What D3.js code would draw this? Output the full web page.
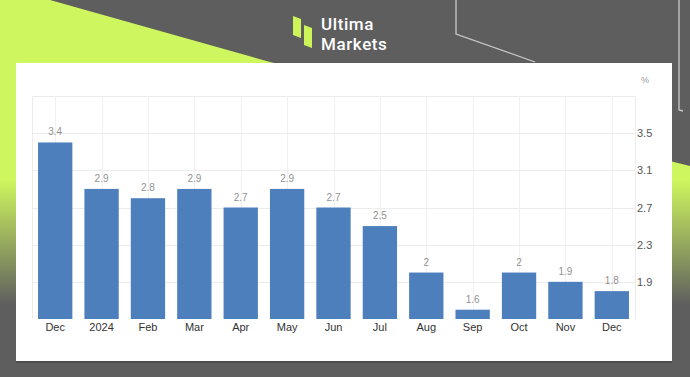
<!DOCTYPE html>
<html>
<head>
<meta charset="utf-8">
<script src="https://cdn.jsdelivr.net/npm/d3@7"></script>
<style>
html,body{margin:0;padding:0;background:#5e5e5e;}
svg{display:block;}
</style>
</head>
<body>
<svg id="chart" width="690" height="377"></svg>
<script>
const categories = ["Dec","2024","Feb","Mar","Apr","May","Jun","Jul","Aug","Sep","Oct","Nov","Dec"];
const values = [3.4,2.9,2.8,2.9,2.7,2.9,2.7,2.5,2.0,1.6,2.0,1.9,1.8];
const valueLabels = ["3.4","2.9","2.8","2.9","2.7","2.9","2.7","2.5","2","1.6","2","1.9","1.8"];
const yTicks = [1.9,2.3,2.7,3.1,3.5];
const yDomain = [1.5,3.9];
const unitLabel = "%";

(function(){
const svg = d3.select("#chart");
const W = 690, H = 377;

// background
const defs = svg.append("defs");
const g1 = defs.append("linearGradient").attr("id","limeGrad")
  .attr("gradientUnits","userSpaceOnUse").attr("x1",0).attr("y1",0).attr("x2",0).attr("y2",H);
g1.append("stop").attr("offset",0).attr("stop-color","#cef65e");
g1.append("stop").attr("offset",180/H).attr("stop-color","#cef65e");
g1.append("stop").attr("offset",305/H).attr("stop-color","#5e5e5e");
g1.append("stop").attr("offset",1).attr("stop-color","#5e5e5e");

svg.append("rect").attr("width",W).attr("height",H).attr("fill","#5e5e5e");
svg.append("path")
  .attr("d","M0,0 L50,0 L270,62 L690,166 L690,377 L0,377 Z")
  .attr("fill","url(#limeGrad)");

// decorative lines top-right
svg.append("path").attr("d","M456,0 L456,34 L535,62")
  .attr("fill","none").attr("stroke","#c9c9c9").attr("stroke-width",1.3);
svg.append("path").attr("d","M679,0 L679,110 L683,111")
  .attr("fill","none").attr("stroke","#c9c9c9").attr("stroke-width",1.3);

// logo
const logo = svg.append("g");
logo.append("path").attr("d","M293,16 L301,19 L301,38 L293,35 Z").attr("fill","#cdf55a");
logo.append("path").attr("d","M304,25 L312,28 L312,48 L304,45 Z").attr("fill","#cdf55a");
const logoFont = g => g.attr("fill","#fff").attr("font-family","Roboto, 'Open Sans', sans-serif")
  .attr("font-weight",500).attr("font-size",17).attr("letter-spacing",0.6);
logo.append("text").attr("x",321).attr("y",29.5).text("Ultima").call(logoFont);
logo.append("text").attr("x",321).attr("y",49.5).text("Markets").call(logoFont);

// white panel
svg.append("rect").attr("x",16).attr("y",63).attr("width",656).attr("height",298).attr("fill","#fff");
svg.append("rect").attr("x",16).attr("y",361).attr("width",656).attr("height",2).attr("fill","#4e4e4e");

// plot
const pLeft = 32, pRight = 635, pTop = 96, pBottom = 319;
const x = d3.scaleBand().domain(d3.range(categories.length)).range([pLeft,pRight]).paddingInner(0.26).paddingOuter(0.13);
const y = d3.scaleLinear().domain(yDomain).range([pBottom,pTop]);

const grid = svg.append("g");
grid.selectAll("line.h").data(yTicks.concat([yDomain[1]])).join("line")
  .attr("x1",pLeft).attr("x2",pRight).attr("y1",d=>Math.round(y(d))+0.5).attr("y2",d=>Math.round(y(d))+0.5)
  .attr("stroke","#ececec").attr("stroke-width",1);
grid.selectAll("line.v").data(d3.range(categories.length)).join("line")
  .attr("x1",d=>Math.round(x(d)+x.bandwidth()/2)+0.5).attr("x2",d=>Math.round(x(d)+x.bandwidth()/2)+0.5)
  .attr("y1",pTop).attr("y2",pBottom).attr("stroke","#f0f0f0");
grid.append("line").attr("x1",pLeft+0.5).attr("x2",pLeft+0.5).attr("y1",pTop).attr("y2",pBottom).attr("stroke","#ececec");
grid.append("line").attr("x1",pRight+0.5).attr("x2",pRight+0.5).attr("y1",pTop).attr("y2",pBottom).attr("stroke","#ececec");

// bars
svg.append("g").selectAll("rect").data(values).join("rect")
  .attr("x",(d,i)=>x(i)).attr("width",x.bandwidth())
  .attr("y",d=>y(d)).attr("height",d=>pBottom-y(d))
  .attr("fill","#4d7fbd");

// value labels
svg.append("g").selectAll("text").data(values).join("text")
  .attr("x",(d,i)=>x(i)+x.bandwidth()/2).attr("y",d=>y(d)-7)
  .attr("text-anchor","middle").attr("fill","#929292")
  .attr("font-family","Arial, 'Liberation Sans', sans-serif").attr("font-size",10)
  .text((d,i)=>valueLabels[i]);

// x axis
const xAxis = d3.axisBottom(x).tickFormat(i=>categories[i]).tickSize(0).tickPadding(0);
const gx = svg.append("g").attr("transform",`translate(0,${pBottom})`).call(xAxis);
gx.select(".domain").remove();
gx.selectAll("text").attr("dy",null).attr("y",12)
  .attr("font-family","Arial, 'Liberation Sans', sans-serif").attr("font-size",11).attr("fill","#333");

// y axis
const yAxis = d3.axisRight(y).tickValues(yTicks).tickSize(0).tickPadding(0).tickFormat(d3.format(".1f"));
const gy = svg.append("g").attr("transform",`translate(${pRight+2},0)`).call(yAxis);
gy.select(".domain").remove();
gy.selectAll("text").attr("x",0)
  .attr("font-family","Arial, 'Liberation Sans', sans-serif").attr("font-size",11).attr("fill","#555");

svg.append("text").attr("x",641).attr("y",83).text(unitLabel)
  .attr("font-family","Arial, 'Liberation Sans', sans-serif").attr("font-size",9).attr("fill","#999");
})();
</script>
</body>
</html>
